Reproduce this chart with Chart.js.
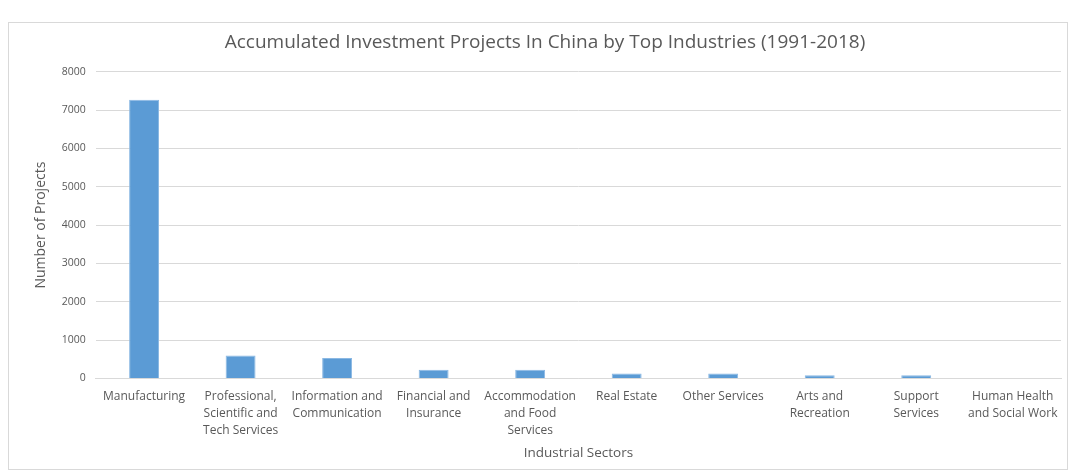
<!DOCTYPE html>
<html>
<head>
<meta charset="utf-8">
<script src="https://cdn.jsdelivr.net/npm/chart.js@4"></script>
<style>
  body { margin: 0; background: #fff; }
  #frame { position: absolute; left: 8px; top: 22px; width: 1060px; height: 448px; border: 1px solid #d9d9d9; box-sizing: border-box; }
</style>
</head>
<body>
<div id="frame"><canvas id="barChart"></canvas></div>
<script>
const sectors = [
  'Manufacturing',
  ['Professional,', 'Scientific and', 'Tech Services'],
  ['Information and', 'Communication'],
  ['Financial and', 'Insurance'],
  ['Accommodation', 'and Food', 'Services'],
  'Real Estate',
  'Other Services',
  ['Arts and', 'Recreation'],
  ['Support', 'Services'],
  ['Human Health', 'and Social Work']
];
const projects = [7270, 595, 530, 225, 225, 130, 130, 85, 85, 0];
const yTicks = [0, 1000, 2000, 3000, 4000, 5000, 6000, 7000, 8000];

const grey = '#595959';
const font = '"Open Sans", Lato, sans-serif';

new Chart(document.getElementById('barChart'), {
  type: 'bar',
  data: {
    labels: sectors,
    datasets: [{
      label: 'Number of Projects',
      data: projects,
      backgroundColor: '#5b9bd5',
      borderColor: '#8ab8e3',
      borderWidth: 1,
      barPercentage: 0.31,
      categoryPercentage: 1
    }]
  },
  options: {
    responsive: true,
    maintainAspectRatio: false,
    animation: false,
    layout: { padding: { left: 20, right: 6, top: 8, bottom: 4 } },
    plugins: {
      legend: { display: false },
      tooltip: { enabled: false },
      title: {
        display: true,
        text: 'Accumulated Investment Projects In China by Top Industries (1991-2018)',
        color: grey,
        font: { family: font, size: 19, weight: 'normal' },
        padding: { top: 0, bottom: 18 }
      }
    },
    scales: {
      x: {
        grid: { display: false },
        border: { color: '#d9d9d9' },
        ticks: {
          color: grey, maxRotation: 0, autoSkip: false, padding: 2,
          font: { family: font, size: 12, lineHeight: 1.4 }
        },
        title: {
          display: true, text: 'Industrial Sectors', color: grey,
          font: { family: font, size: 13.5 }, padding: { top: 4 }
        }
      },
      y: {
        min: 0, max: 8000,
        afterBuildTicks: axis => { axis.ticks = yTicks.map(v => ({ value: v })); },
        grid: { color: '#d9d9d9', drawTicks: false },
        border: { display: false },
        ticks: {
          color: grey, padding: 10,
          font: { family: font, size: 10.5 },
          callback: v => String(v)
        },
        title: {
          display: true, text: 'Number of Projects', color: grey,
          font: { family: font, size: 14 }, padding: { bottom: 2 }
        }
      }
    }
  }
});
</script>
</body>
</html>
